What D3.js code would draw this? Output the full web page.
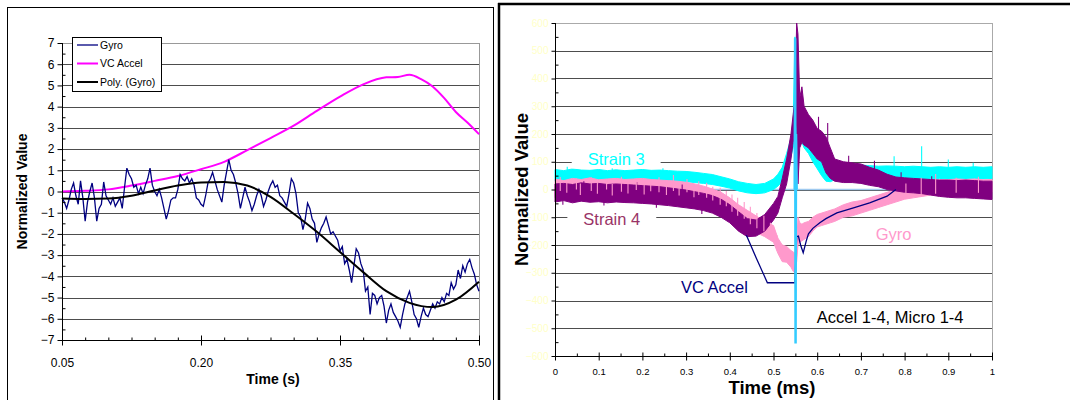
<!DOCTYPE html>
<html>
<head>
<meta charset="utf-8">
<script src="https://cdn.jsdelivr.net/npm/d3@7"></script>
<style>
body{margin:0;background:#fff}
svg{display:block;font-family:"Liberation Sans",Arial,sans-serif}
</style>
</head>
<body>
<svg id="chart" width="1070" height="400"></svg>
<script>
// ---------- left chart data (time in s) ----------
var gyroStart = 0.05, gyroEnd = 0.50;
var gyroValues = [-0.3,-0.5,-0.8,-0.4,0.1,0.4,-0.2,-0.6,0.5,-0.3,-1.4,-0.5,0.0,0.4,-0.3,-1.4,-0.8,-0.6,0.45,-0.2,-0.4,-0.6,-0.3,-0.7,-0.5,-0.3,-0.8,
  0.2,1.1,0.8,0.6,0.2,0.3,-0.1,0.2,-0.1,0.3,0.6,1.1,0.3,0.0,-0.2,0.1,-0.3,-0.8,-1.3,-0.9,-0.4,-0.3,-0.3,0.1,0.8,0.6,0.5,0.7,0.4,
  0.6,0.3,-0.3,-0.4,-0.6,-0.7,-0.2,0.4,0.6,0.9,0.5,0.1,-0.2,-0.5,0.3,0.9,1.5,1.0,0.8,0.4,-0.1,-0.8,-0.3,0.2,-0.2,-0.5,-0.9,-0.6,-0.2,
  0.1,-0.2,-0.7,-0.4,0.0,0.3,0.5,0.2,0.3,-0.2,-0.3,-0.5,-0.7,-0.1,0.6,0.4,-0.1,-1.0,-1.2,-1.8,-1.3,-0.55,-0.8,-1.3,-1.5,-2.4,-2.0,-1.7,
  -1.5,-1.2,-1.6,-2.0,-1.9,-2.1,-2.3,-2.8,-2.6,-3.4,-3.2,-3.7,-4.3,-3.5,-2.7,-2.9,-3.4,-3.7,-4.7,-4.5,-5.8,-4.8,-4.9,-5.3,-5.0,-4.9,-5.4,-6.2,-5.6,
  -5.3,-5.7,-5.9,-6.1,-6.4,-5.8,-5.3,-5.0,-4.7,-5.2,-5.8,-6.0,-6.4,-5.9,-5.5,-5.8,-5.9,-5.6,-5.3,-5.5,-5.2,-5.3,-5.0,-5.2,-4.8,-4.9,-4.3,-4.6,-4.4,-3.7,-4.1,-3.5,-3.8,-3.4,-3.2,-3.6,-3.9,-4.4,-4.7];
var polyTimes  = [0.05,0.075,0.10,0.125,0.15,0.175,0.20,0.225,0.25,0.275,0.30,0.325,0.35,0.375,0.40,0.425,0.45,0.475,0.50];
var polyValues = [-0.33,-0.35,-0.33,-0.2,0.05,0.28,0.43,0.45,0.28,-0.25,-1.05,-1.9,-2.85,-3.8,-4.7,-5.25,-5.45,-5.1,-4.25];
var vcTimes  = [0.05,0.075,0.10,0.125,0.15,0.175,0.20,0.225,0.25,0.275,0.30,0.325,0.35,0.375,0.40,0.4125,0.425,0.4375,0.45,0.4625,0.475,0.4875,0.50];
var vcValues = [0.0,0.03,0.1,0.28,0.5,0.73,1.05,1.4,1.95,2.52,3.1,3.8,4.47,5.05,5.38,5.4,5.5,5.3,4.95,4.4,3.75,3.25,2.7];
var leftYTicks = [-7,-6,-5,-4,-3,-2,-1,0,1,2,3,4,5,6,7];
var leftXTicks = [0.05,0.20,0.35,0.50];
var leftLegend = ["Gyro","VC Accel","Poly. (Gyro)"];

// ---------- right chart data (time in ms) ----------
var bandTimes = [0,0.02,0.04,0.06,0.08,0.10,0.12,0.14,0.16,0.18,0.20,0.22,0.24,0.26,0.28,0.30,0.32,0.34,0.36,0.38,0.40,0.42,0.44,0.46,0.48,0.50,
  0.51,0.52,0.53,0.54,0.545,0.549,0.553,0.556,0.56,0.565,0.57,0.58,0.59,0.60,0.61,0.62,0.63,0.64,
  0.66,0.68,0.70,0.72,0.74,0.76,0.78,0.80,0.82,0.84,0.86,0.88,0.90,0.92,0.94,0.96,0.98,1.0];
var strain3Lo = [30,32,30,34,32,33,30,32,31,33,32,31,30,32,30,28,25,22,18,12,5,-5,-12,-15,-12,0,
  12,30,70,120,150,180,190,200,190,170,150,130,100,75,50,30,28,35,
  40,42,45,45,44,44,42,42,40,40,40,40,38,40,38,40,38,40];
var strain3Hi = [72,68,74,70,69,72,68,71,68,70,72,69,70,68,66,65,62,58,54,46,38,28,22,18,22,38,
  55,80,130,185,230,550,300,270,260,250,240,200,170,145,115,95,90,95,
  92,90,88,86,84,85,84,82,84,82,80,82,80,82,80,82,80,82];
var strain4Lo = [-45,-40,-48,-42,-46,-44,-48,-45,-47,-48,-50,-52,-55,-58,-62,-66,-70,-76,-85,-100,-120,-150,-170,-168,-150,-110,
  -85,-30,20,110,170,210,240,20,150,170,160,150,130,110,100,60,40,30,
  25,25,22,15,10,0,-5,-10,-12,-15,-20,-25,-28,-30,-30,-32,-34,-36];
var strain4Hi = [20,22,18,24,20,22,18,20,18,16,14,12,10,6,2,-2,-8,-14,-22,-35,-55,-80,-105,-110,-90,-50,
  -25,40,110,200,270,320,600,560,330,370,300,270,250,220,210,190,150,110,
  100,96,92,80,70,55,45,42,40,38,36,34,34,32,34,32,30,30];
var gyroRLo = [-30,-35,-28,-32,-30,-34,-30,-32,-30,-34,-30,-32,-34,-36,-38,-42,-50,-55,-62,-75,-95,-120,-140,-155,-170,-190,
  -230,-260,-262,-280,-295,-300,-260,-200,-190,-185,-180,-170,-150,-135,-130,-125,-120,-115,
  -100,-95,-85,-75,-65,-55,-45,-35,-30,-25,-20,-20,-15,-15,-12,-15,-12,-10];
var gyroRHi = [38,32,40,36,42,35,38,40,36,38,40,36,34,32,30,26,20,12,2,-10,-30,-55,-75,-95,-115,-130,
  -175,-200,-205,-220,-225,-230,-200,-100,-120,-125,-120,-115,-100,-90,-85,-80,-75,-70,
  -55,-45,-40,-30,-20,-10,0,10,20,25,30,35,35,38,36,38,35,36];
// single noise strokes [time, from, to]
var strain3Spikes = [[0.028,55,82],[0.131,55,79],[0.247,55,77],[0.611,70,150],[0.776,60,120],[0.839,60,156],[0.90,60,108],[0.957,60,96]];
var strain4Spikes = [[0.018,-20,-55],[0.066,-10,30],[0.112,-20,-58],[0.187,-10,27],[0.232,-30,-66],[0.291,-20,18],[0.336,-40,-88],
  [0.603,160,262],[0.624,120,240],[0.672,60,122],[0.731,50,104],[0.792,20,62],[0.862,0,48]];
var gyroRSpikes = [[0.012,-5,45],[0.027,-12,30],[0.049,0,40],[0.058,-20,22],[0.083,-5,44],[0.097,-15,30],[0.118,0,38],[0.131,-22,20],
  [0.152,-8,46],[0.167,-14,28],[0.186,-2,40],[0.204,-18,24],[0.219,-6,36],[0.238,-10,44],[0.255,-20,26],[0.271,-5,52],
  [0.284,-22,28],[0.302,-10,38],[0.318,-28,22],[0.329,-20,30],[0.347,-30,24],[0.361,-40,10],[0.378,-55,6],[0.392,-60,-5],
  [0.405,-80,-18],[0.418,-95,-30],[0.433,-105,-45],[0.447,-125,-62],[0.462,-140,-85],[0.478,-150,-95],[0.493,-175,-120],
  [0.508,-220,-165],[0.803,-25,22],[0.838,-20,42],[0.871,-15,56],[0.918,-12,42],[0.969,-12,46]];
var vcRTimes  = [0.438,0.46,0.486,0.549,0.553,0.557,0.562,0.568,0.575,0.58,0.59,0.606,0.62,0.645,0.683,0.72,0.76,0.78];
var vcRValues = [-165,-245,-336,-336,-170,-168,-200,-228,-185,-160,-140,-120,-105,-84,-66,-48,-24,0];
var accelTimes  = [0.5485,0.5495,0.5505,0.5515,0.553];
var accelValues = [0,545,-555,200,0];
var rightYTicks = [-600,-500,-400,-300,-200,-100,0,100,200,300,400,500,600];
var rightXTicks = [0,0.1,0.2,0.3,0.4,0.5,0.6,0.7,0.8,0.9,1];
var rightLabels = [
  {text:"Strain 3", color:"#00ffff", t:0.14, v:87, bg:true},
  {text:"Strain 4", color:"#993366", t:0.13, v:-128, bg:true},
  {text:"VC Accel", color:"#000080", t:0.365, v:-372, bg:false},
  {text:"Gyro", color:"#ff99cc", t:0.775, v:-182, bg:false},
  {text:"Accel 1-4, Micro 1-4", color:"#000000", t:0.767, v:-480, bg:false}
];

var svg = d3.select("#chart");

// ================= LEFT PANEL =================
svg.append("rect").attr("x",7.5).attr("y",7.5).attr("width",486).attr("height",400)
  .attr("fill","none").attr("stroke","#000").attr("stroke-width",1);

var xL = d3.scaleLinear().domain([0.05,0.50]).range([62,479]);
var yL = d3.scaleLinear().domain([-7,7]).range([340,43]);

var gL = svg.append("g");
gL.selectAll("line.grid").data(leftYTicks.filter(function(d){return d>-7;}))
  .enter().append("line")
  .attr("x1",xL(0.05)).attr("x2",xL(0.5))
  .attr("y1",function(d){return Math.round(yL(d))+0.5;}).attr("y2",function(d){return Math.round(yL(d))+0.5;})
  .attr("stroke",function(d){return d==7?"#999":"#4d4d4d";}).attr("stroke-width",1);
gL.append("line").attr("x1",xL(0.5)+0.5).attr("x2",xL(0.5)+0.5).attr("y1",yL(7)).attr("y2",yL(-7))
  .attr("stroke","#999");

var lineL = d3.line().x(function(d){return xL(d[0]);}).y(function(d){return yL(d[1]);});
var gyroPts = gyroValues.map(function(v,i){return [gyroStart + i*(gyroEnd-gyroStart)/(gyroValues.length-1), v];});
gL.append("path").datum(d3.zip(vcTimes,vcValues)).attr("d",lineL.curve(d3.curveMonotoneX))
  .attr("fill","none").attr("stroke","#ff00ff").attr("stroke-width",2);
gL.append("path").datum(gyroPts).attr("d",lineL.curve(d3.curveLinear))
  .attr("fill","none").attr("stroke","#000080").attr("stroke-width",1.3);
gL.append("path").datum(d3.zip(polyTimes,polyValues)).attr("d",lineL.curve(d3.curveMonotoneX))
  .attr("fill","none").attr("stroke","#000").attr("stroke-width",2);

// axes
var yAxisL = d3.axisLeft(yL).tickValues(leftYTicks).tickSize(5).tickFormat(d3.format("d"));
var yAxL = gL.append("g").attr("transform","translate("+(xL(0.05)+0.5)+",0)").call(yAxisL);
yAxL.select(".domain").remove();
yAxL.append("line").attr("y1",yL(7)).attr("y2",yL(-7)).attr("stroke","#000");
yAxL.selectAll("text").attr("font-size",12).attr("font-family","Liberation Sans, Arial, sans-serif").attr("fill","#000");
gL.append("g").attr("transform","translate("+(xL(0.05)+0.5)+",0)")
  .call(d3.axisRight(yL).tickValues(d3.range(-6.5,7,1)).tickSize(3).tickFormat(""))
  .select(".domain").remove();

var xAxL = gL.append("g").attr("transform","translate(0,"+(yL(-7)+0.5)+")")
  .call(d3.axisBottom(xL).tickValues(leftXTicks).tickSize(5).tickFormat(d3.format(".2f")));
xAxL.select(".domain").remove();
xAxL.append("line").attr("x1",xL(0.05)).attr("x2",xL(0.5)).attr("stroke","#000");
xAxL.selectAll(".tick line").attr("y1",-5);
xAxL.selectAll("text").attr("font-size",12).attr("dy","1.55em").attr("font-family","Liberation Sans, Arial, sans-serif");
gL.append("g").attr("transform","translate(0,"+(yL(-7)+0.5)+")")
  .call(d3.axisTop(xL).tickValues(d3.range(0.075,0.5,0.025).filter(function(d){return Math.abs((d-0.05)/0.15-Math.round((d-0.05)/0.15))>0.01;})).tickSize(3).tickFormat(""))
  .select(".domain").remove();

gL.append("text").attr("transform","translate(27,"+yL(0)+") rotate(-90)").attr("text-anchor","middle")
  .attr("font-size",14).attr("font-weight","bold").text("Normalized Value");
gL.append("text").attr("x",273).attr("y",384).attr("text-anchor","middle")
  .attr("font-size",14).attr("font-weight","bold").text("Time (s)");

// legend
var leg = gL.append("g").attr("transform","translate(72,37)");
leg.append("rect").attr("x",0.5).attr("y",0.5).attr("width",89).attr("height",54).attr("fill","#fff").attr("stroke","#000");
var legStyle = [{c:"#000080",w:1.3},{c:"#ff00ff",w:2},{c:"#000",w:2}];
leg.selectAll("g.item").data(leftLegend).enter().append("g").attr("class","item")
  .attr("transform",function(d,i){return "translate(0,"+(8+i*18.5)+")";})
  .each(function(d,i){
    var it = d3.select(this);
    it.append("line").attr("x1",5).attr("x2",26).attr("y1",0).attr("y2",0)
      .attr("stroke",legStyle[i].c).attr("stroke-width",legStyle[i].w);
    it.append("text").attr("x",28).attr("y",3.8).attr("font-size",10.5).text(d);
  });

// ================= RIGHT PANEL =================
svg.append("line").attr("x1",499).attr("x2",499).attr("y1",3).attr("y2",400).attr("stroke","#000").attr("stroke-width",2.5);
svg.append("line").attr("x1",498).attr("x2",1070).attr("y1",4).attr("y2",4).attr("stroke","#000").attr("stroke-width",2.5);

var xR = d3.scaleLinear().domain([0,1]).range([555,992]);
var yR = d3.scaleLinear().domain([-600,600]).range([356,23]);
var gR = svg.append("g");

gR.selectAll("line.grid").data(rightYTicks.filter(function(d){return d>-600;}))
  .enter().append("line")
  .attr("x1",xR(0)).attr("x2",xR(1))
  .attr("y1",function(d){return Math.round(yR(d))+0.5;}).attr("y2",function(d){return Math.round(yR(d))+0.5;})
  .attr("stroke",function(d){return d==600?"#aaa":"#4d4d4d";}).attr("stroke-width",1);
gR.append("line").attr("x1",xR(1)+0.5).attr("x2",xR(1)+0.5).attr("y1",yR(600)).attr("y2",yR(-600)).attr("stroke","#aaa");

var labelLayer = gR.append("g");

// zero line of the accel / micro channels
gR.append("line").attr("x1",xR(0)).attr("x2",xR(1)).attr("y1",yR(0)).attr("y2",yR(0))
  .attr("stroke","#9fc9ef").attr("stroke-width",1.5);

var areaR = d3.area().x(function(d){return xR(d[0]);}).y0(function(d){return yR(d[1]);}).y1(function(d){return yR(d[2]);});
function band(lo,hi,color){
  gR.append("path").datum(d3.zip(bandTimes,lo,hi)).attr("d",areaR).attr("fill",color).attr("stroke",color).attr("stroke-width",1);
}
function strokes(spikes,color){
  gR.append("g").selectAll("line").data(spikes).enter().append("line")
    .attr("x1",function(d){return xR(d[0]);}).attr("x2",function(d){return xR(d[0]);})
    .attr("y1",function(d){return yR(d[1]);}).attr("y2",function(d){return yR(d[2]);})
    .attr("stroke",color).attr("stroke-width",1.1);
}
band(strain3Lo,strain3Hi,"#00ffff");
strokes(strain3Spikes,"#00ffff");
band(gyroRLo,gyroRHi,"#ff99cc");
band(strain4Lo,strain4Hi,"#800080");
strokes(strain4Spikes,"#800080");
strokes(gyroRSpikes,"#ff99cc");

var lineR = d3.line().x(function(d){return xR(d[0]);}).y(function(d){return yR(d[1]);});
gR.append("path").datum(d3.zip(vcRTimes,vcRValues)).attr("d",lineR)
  .attr("fill","none").attr("stroke","#000080").attr("stroke-width",1.3);
gR.append("path").datum(d3.zip(accelTimes,accelValues)).attr("d",lineR)
  .attr("fill","none").attr("stroke","#33ccff").attr("stroke-width",2.5);

// axes
var yAxR = gR.append("g").attr("transform","translate("+(xR(0)+0.5)+",0)")
  .call(d3.axisLeft(yR).tickValues(rightYTicks).tickSize(4).tickFormat(d3.format("d")));
yAxR.select(".domain").remove();
yAxR.append("line").attr("y1",yR(600)).attr("y2",yR(-600)).attr("stroke","#000");
yAxR.selectAll("text").attr("font-size",10).attr("fill","#ffffc8").attr("font-family","Liberation Sans, Arial, sans-serif");
gR.append("g").attr("transform","translate("+(xR(0)+0.5)+",0)")
  .call(d3.axisRight(yR).tickValues(d3.range(-550,600,100)).tickSize(3).tickFormat(""))
  .select(".domain").remove();

var xAxR = gR.append("g").attr("transform","translate(0,"+(yR(-600)+0.5)+")")
  .call(d3.axisBottom(xR).tickValues(rightXTicks).tickSize(4).tickFormat(d3.format("")));
xAxR.select(".domain").remove();
xAxR.append("line").attr("x1",xR(0)).attr("x2",xR(1)).attr("stroke","#000");
xAxR.selectAll(".tick line").attr("y1",-4);
xAxR.selectAll("text").attr("font-size",9.5).attr("y",0).attr("dy",0)
  .attr("transform","translate(0,18)").attr("font-family","Liberation Sans, Arial, sans-serif");
gR.append("g").attr("transform","translate(0,"+(yR(-600)+0.5)+")")
  .call(d3.axisTop(xR).tickValues(d3.range(0.05,1,0.1)).tickSize(3).tickFormat(""))
  .select(".domain").remove();

gR.append("text").attr("transform","translate(528,"+yR(0)+") rotate(-90)").attr("text-anchor","middle")
  .attr("font-size",18.5).attr("font-weight","bold").text("Normalized Value");
gR.append("text").attr("x",772).attr("y",393.5).attr("text-anchor","middle")
  .attr("font-size",18.5).attr("font-weight","bold").text("Time (ms)");

rightLabels.forEach(function(l){
  var t = labelLayer.append("text").attr("x",xR(l.t)).attr("y",yR(l.v)).attr("text-anchor","middle")
    .attr("font-size",16.5).attr("fill",l.color).text(l.text);
  if(l.bg){
    var b = t.node().getBBox();
    labelLayer.insert("rect",function(){return t.node();}).attr("x",b.x-16).attr("y",b.y).attr("width",b.width+32).attr("height",b.height)
      .attr("fill","#fff");
  }
});
labelLayer.raise();
</script>
</body>
</html>
